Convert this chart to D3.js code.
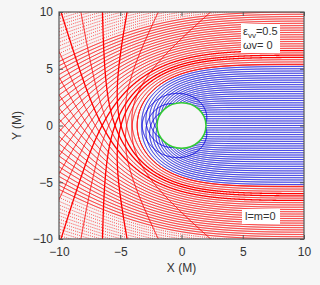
<!DOCTYPE html>
<html>
<head>
<meta charset="utf-8">
<script src="https://cdn.jsdelivr.net/npm/d3@7"></script>
<style>
body { margin: 0; background: #f6f6f6; }
text { font-family: "Liberation Sans", Arial, sans-serif; fill: #333; }
</style>
</head>
<body>
<script>
const width = 320;
const height = 285;
const margin = {left: 59, right: 16, top: 12, bottom: 46};

// impact parameters of the traced rays (M), mirrored to both sides of the axis
const impactParams = [0, 0.2, 0.4, 0.6, 0.8, 1.0, 1.2, 1.4, 1.6, 1.8, 2.0, 2.2, 2.4, 2.6, 2.8, 3.0,
    3.2, 3.4, 3.6, 3.8, 4.0, 4.2, 4.4, 4.6, 4.8, 5.0, 5.2, 5.4, 5.6, 5.8, 6.0, 6.2, 6.4, 6.6, 6.8,
    7.0, 7.2, 7.4, 7.6, 7.8, 8.0, 8.2, 8.4, 8.6, 8.8, 9.0, 9.2, 9.4, 9.6, 9.8, 10.0,
    10.2, 10.4, 10.6, 10.8, 11.0, 11.2, 11.4, 11.6, 11.8, 12.0, 12.2, 12.4, 12.6, 12.8, 13.0,
    13.2, 13.4, 13.6, 13.8, 14.0, 14.2, 14.4, 14.6, 14.8, 15.0];
// rays drawn heavier
const heavyParams = [6.0, 6.2, 6.6];
const startX = [10];
const horizonRadius = [2];
const deformation = [1.03]; // εvv: slightly larger shadow than Schwarzschild
const xTicks = [-10, -5, 0, 5, 10];
const yTicks = [-10, -5, 0, 5, 10];

let svg = d3.select("body").append("svg")
    .attr("width", width)
    .attr("height", height);

let x = d3.scaleLinear().domain([-10, 10]).range([margin.left, width - margin.right]);
let y = d3.scaleLinear().domain([-10, 10]).range([height - margin.bottom, margin.top]);

svg.append("clipPath").attr("id", "plot")
    .append("rect")
    .attr("x", margin.left).attr("y", margin.top)
    .attr("width", width - margin.left - margin.right)
    .attr("height", height - margin.top - margin.bottom);

// photon path in the plane: a = -3 k h^2 r / r^5 (M = 1)
function trace(b) {
    let px = startX[0], py = b, vx = -1, vy = 0;
    const h2 = b * b;
    const acc = (ax, ay) => {
        let r = Math.hypot(ax, ay);
        let k = -3 * deformation[0] * h2 / Math.pow(r, 5);
        return [k * ax, k * ay];
    };
    let pts = [[px, py]];
    let captured = false;
    for (let i = 0; i < 40000; i++) {
        let r = Math.hypot(px, py);
        if (r <= horizonRadius[0]) { captured = true; break; }
        if (px < -10.5 || px > 10.5 || Math.abs(py) > 20) break;
        let dt = r < 4 ? 0.004 : 0.01;
        let a1 = acc(px, py);
        let k1 = [vx, vy, a1[0], a1[1]];
        let a2 = acc(px + k1[0] * dt / 2, py + k1[1] * dt / 2);
        let k2 = [vx + k1[2] * dt / 2, vy + k1[3] * dt / 2, a2[0], a2[1]];
        let a3 = acc(px + k2[0] * dt / 2, py + k2[1] * dt / 2);
        let k3 = [vx + k2[2] * dt / 2, vy + k2[3] * dt / 2, a3[0], a3[1]];
        let a4 = acc(px + k3[0] * dt, py + k3[1] * dt);
        let k4 = [vx + k3[2] * dt, vy + k3[3] * dt, a4[0], a4[1]];
        px += dt / 6 * (k1[0] + 2 * k2[0] + 2 * k3[0] + k4[0]);
        py += dt / 6 * (k1[1] + 2 * k2[1] + 2 * k3[1] + k4[1]);
        vx += dt / 6 * (k1[2] + 2 * k2[2] + 2 * k3[2] + k4[2]);
        vy += dt / 6 * (k1[3] + 2 * k2[3] + 2 * k3[3] + k4[3]);
        if (i % 3 === 0) pts.push([px, py]);
    }
    pts.push([px, py]);
    return {b: b, pts: pts, captured: captured};
}

let rays = [];
impactParams.forEach(b => {
    rays.push(trace(b));
    if (b > 0) rays.push(trace(-b));
});

let line = d3.line().x(d => x(d[0])).y(d => y(d[1]));

let g = svg.append("g").attr("clip-path", "url(#plot)");

g.selectAll("path.red")
    .data(rays.filter(d => !d.captured))
    .enter()
    .append("path")
    .attr("class", "red")
    .attr("d", d => line(d.pts))
    .attr("fill", "none")
    .attr("stroke", "#ff0000")
    .attr("stroke-width", d => heavyParams.includes(Math.abs(d.b)) ? 1.3 : (Math.abs(d.b) > 10 ? 0.8 : 1))
    .attr("stroke-dasharray", d => Math.abs(d.b) > 10 ? "1,1.2" : null);

g.selectAll("path.blue")
    .data(rays.filter(d => d.captured))
    .enter()
    .append("path")
    .attr("class", "blue")
    .attr("d", d => line(d.pts))
    .attr("fill", "none")
    .attr("stroke", "#0000e0")
    .attr("stroke-width", 1);

//视界
svg.append("ellipse")
    .attr("cx", x(0)).attr("cy", y(0))
    .attr("rx", x(horizonRadius[0]) - x(0))
    .attr("ry", y(0) - y(horizonRadius[0]))
    .attr("fill", "#f6f6f6")
    .attr("stroke", "#33cc33")
    .attr("stroke-width", 1.6);

// frame and ticks
svg.append("rect")
    .attr("x", margin.left).attr("y", margin.top)
    .attr("width", width - margin.left - margin.right)
    .attr("height", height - margin.top - margin.bottom)
    .attr("fill", "none")
    .attr("stroke", "#555")
    .attr("stroke-width", 1.2);

svg.append("g").attr("transform", `translate(0,${height - margin.bottom})`)
    .call(d3.axisBottom(x).tickValues(xTicks).tickSize(-4).tickPadding(8))
    .call(a => a.select(".domain").remove());
svg.append("g").attr("transform", `translate(0,${margin.top})`)
    .call(d3.axisTop(x).tickValues(xTicks).tickSize(-4).tickFormat(""))
    .call(a => a.select(".domain").remove());
svg.append("g").attr("transform", `translate(${margin.left},0)`)
    .call(d3.axisLeft(y).tickValues(yTicks).tickSize(-4).tickPadding(6))
    .call(a => a.select(".domain").remove());
svg.append("g").attr("transform", `translate(${width - margin.right},0)`)
    .call(d3.axisRight(y).tickValues(yTicks).tickSize(-4).tickFormat(""))
    .call(a => a.select(".domain").remove());

svg.selectAll(".tick line").attr("stroke", "#555");
svg.selectAll(".tick text")
    .attr("font-size", 12)
    .attr("font-family", "Liberation Sans, Arial, sans-serif")
    .attr("fill", "#333");

svg.append("text")
    .attr("x", x(0)).attr("y", 272)
    .attr("text-anchor", "middle")
    .attr("font-size", 12)
    .text("X (M)");

svg.append("text")
    .attr("transform", `translate(21,${y(0)}) rotate(-90)`)
    .attr("text-anchor", "middle")
    .attr("font-size", 12)
    .text("Y (M)");

// legend boxes
svg.append("rect").attr("x", 241).attr("y", 24).attr("width", 39).attr("height", 29).attr("fill", "#fff");
let t1 = svg.append("text").attr("x", 243).attr("y", 35).attr("font-size", 11);
t1.append("tspan").text("ε");
t1.append("tspan").attr("font-size", 8).attr("dy", 3).text("vv");
t1.append("tspan").attr("dy", -3).text("=0.5");
svg.append("text").attr("x", 243).attr("y", 49).attr("font-size", 11).text("ωv= 0");

svg.append("rect").attr("x", 242).attr("y", 209).attr("width", 38).attr("height", 15).attr("fill", "#fff");
svg.append("text").attr("x", 245).attr("y", 220).attr("font-size", 11).text("l=m=0");
</script>
</body>
</html>
